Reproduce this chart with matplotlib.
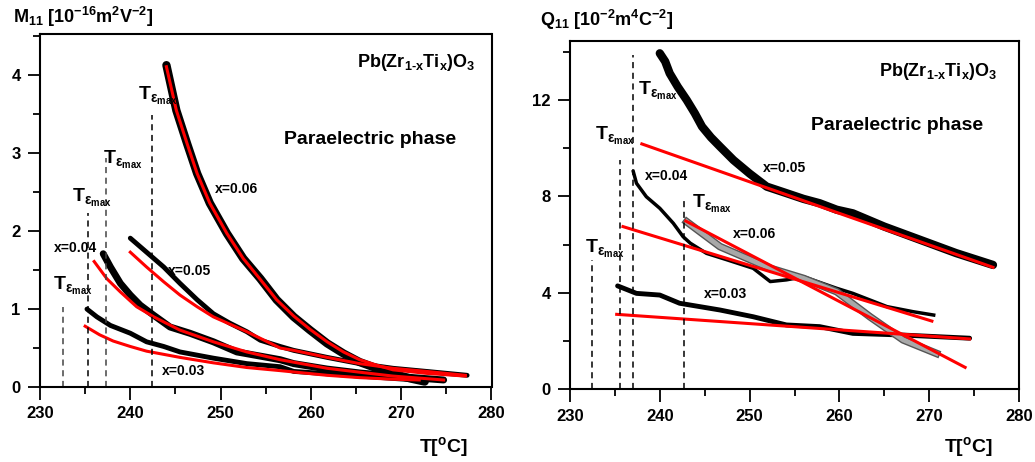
import matplotlib
matplotlib.use('Agg')
import matplotlib.pyplot as plt
from matplotlib.ticker import MultipleLocator

plt.rcParams['font.family'] = ['Liberation Sans', 'DejaVu Sans']
plt.rcParams['font.weight'] = 'bold'
plt.rcParams['mathtext.fontset'] = 'custom'
plt.rcParams['mathtext.rm'] = 'Liberation Sans'
plt.rcParams['mathtext.bf'] = 'Liberation Sans:bold'
plt.rcParams['mathtext.it'] = 'Liberation Sans:bold'
plt.rcParams['mathtext.default'] = 'bf'

# ---- left panel: M11 ----
m06_T = [244.0, 245.1, 246.3, 247.4, 248.8, 250.7, 252.5, 254.4, 256.2, 258.1,
         259.9, 261.8, 263.6, 265.4, 267.3, 269.1, 271.0, 272.6]
m06_v = [4.13, 3.55, 3.12, 2.74, 2.36, 1.97, 1.65, 1.39, 1.12, 0.90,
         0.73, 0.56, 0.43, 0.32, 0.24, 0.17, 0.11, 0.07]
m06f_T = [244.0, 245.1, 246.3, 247.4, 248.8, 250.7, 252.5, 254.4, 256.2, 258.1,
          259.9, 261.8, 263.6, 265.4, 267.3, 269.1, 272.8, 277.1]
m06f_v = [4.11, 3.55, 3.12, 2.74, 2.36, 1.97, 1.65, 1.38, 1.12, 0.91,
          0.74, 0.58, 0.45, 0.35, 0.28, 0.22, 0.175, 0.14]

m05_T = [240.0, 241.8, 243.7, 245.5, 247.4, 249.2, 251.0, 252.9, 254.4, 256.6,
         258.1, 261.8, 265.4, 269.1, 272.8, 277.3]
m05_v = [1.91, 1.73, 1.54, 1.33, 1.12, 0.94, 0.82, 0.71, 0.60, 0.52,
         0.47, 0.38, 0.30, 0.24, 0.20, 0.15]
m05f_T = [240.0, 241.8, 243.7, 245.5, 247.4, 249.2, 252.9, 256.6, 258.1, 261.8,
          265.4, 269.1, 272.8, 277.1]
m05f_v = [1.73, 1.54, 1.35, 1.18, 1.03, 0.90, 0.71, 0.50, 0.47, 0.38,
          0.30, 0.24, 0.20, 0.15]

m04_T = [237.0, 237.8, 238.9, 240.0, 241.1, 242.6, 244.4, 246.6, 249.2, 251.8,
         254.7, 256.6, 258.1, 261.8, 265.4, 269.1, 274.7]
m04_v = [1.71, 1.54, 1.33, 1.18, 1.05, 0.92, 0.77, 0.69, 0.58, 0.45,
         0.39, 0.35, 0.30, 0.23, 0.18, 0.14, 0.09]
m04f_T = [236.0, 237.4, 238.9, 240.7, 242.6, 245.5, 249.2, 252.9, 256.6, 261.8,
          265.4, 269.1, 274.7]
m04f_v = [1.61, 1.39, 1.22, 1.03, 0.90, 0.73, 0.58, 0.45, 0.35, 0.24,
          0.19, 0.14, 0.09]

m03_T = [235.2, 236.3, 237.8, 240.0, 241.8, 243.7, 245.5, 249.2, 252.9, 256.6,
         258.1, 261.8, 265.4, 269.1, 272.8]
m03_v = [1.00, 0.90, 0.79, 0.69, 0.58, 0.52, 0.45, 0.37, 0.30, 0.26,
         0.20, 0.17, 0.14, 0.11, 0.08]
m03f_T = [235.0, 236.6, 238.1, 240.0, 241.8, 245.5, 249.2, 252.9, 256.6, 261.8,
          265.4, 269.1, 272.0]
m03f_v = [0.78, 0.67, 0.59, 0.52, 0.46, 0.38, 0.31, 0.25, 0.21, 0.15,
          0.12, 0.10, 0.09]

m_tmax = [232.5, 235.35, 237.3, 242.4]
m_tmax_top = [1.03, 2.23, 2.94, 3.49]
m_tlab = [(231.4, 1.24), (233.5, 2.37), (237.0, 2.86), (240.85, 3.69)]
m_xlab = [('x=0.06', 251.8, 2.54), ('x=0.05', 246.6, 1.49),
          ('x=0.04', 233.9, 1.78), ('x=0.03', 245.9, 0.21)]

# ---- right panel: Q11 ----
q05_T = [240.0, 240.6, 241.1, 242.0, 243.0, 243.9, 244.7, 245.7, 246.7, 248.2,
         250.0, 251.9, 254.0, 256.0, 257.8, 259.7, 261.5, 265.0, 269.0, 273.0, 277.1]
q05_v = [13.94, 13.6, 13.11, 12.55, 12.0, 11.45, 10.9, 10.45, 10.07, 9.51,
         8.95, 8.41, 8.15, 7.90, 7.72, 7.45, 7.30, 6.75, 6.20, 5.65, 5.16]
q05f_T = [238.0, 277.1]
q05f_v = [10.18, 5.06]

q04_T = [237.05, 237.4, 238.5, 240.0, 241.5, 242.6, 243.4, 245.2, 247.5, 250.4,
         252.3, 254.1, 256.0, 259.7, 261.5, 265.3, 268.2, 270.5]
q04_v = [9.03, 8.55, 7.99, 7.51, 6.89, 6.33, 6.06, 5.64, 5.37, 5.02,
         4.47, 4.54, 4.67, 4.19, 3.98, 3.43, 3.22, 3.08]
q04f_T = [235.9, 270.3]
q04f_v = [6.75, 2.83]

q03_T = [235.3, 237.4, 240.0, 242.2, 246.7, 250.4, 254.1, 257.8, 261.5, 267.1, 274.5]
q03_v = [4.29, 3.98, 3.91, 3.57, 3.29, 3.01, 2.67, 2.60, 2.32, 2.25, 2.12]
q03f_T = [235.2, 274.5]
q03f_v = [3.11, 2.09]

q06_T = [243.0, 246.7, 252.3, 256.0, 259.7, 263.4, 267.1, 270.8]
q06_v = [6.95, 5.92, 5.02, 4.60, 4.05, 3.01, 2.05, 1.49]
q06f_T = [242.9, 274.0]
q06f_v = [6.98, 0.91]

q_tmax = [232.5, 235.6, 237.05, 242.7]
q_tmax_top = [5.37, 9.51, 13.88, 7.99]
q_tlab = [(231.67, 5.66), (232.8, 10.34), (237.57, 12.21), (243.6, 7.52)]
q_xlab = [('x=0.05', 253.9, 9.2), ('x=0.04', 240.8, 8.85),
          ('x=0.06', 250.5, 6.44), ('x=0.03', 247.3, 3.95)]

W, H = 1035, 462
fig = plt.figure(figsize=(W / 100, H / 100), dpi=100)
axL = fig.add_axes([40 / W, 1 - 387 / H, 451.5 / W, 353 / H])
axR = fig.add_axes([570 / W, 1 - 389.3 / H, 449 / W, 348.3 / H])

RED = '#ff0000'
tmax_txt = r'$\mathbf{T}_{\mathbf{\epsilon}_{\mathrm{max}}}$'


def style(ax, ymax, ymaj, ymin):
    ax.set_xlim(230, 280)
    ax.set_ylim(0, ymax)
    ax.xaxis.set_major_locator(MultipleLocator(10))
    ax.xaxis.set_minor_locator(MultipleLocator(5))
    ax.yaxis.set_major_locator(MultipleLocator(ymaj))
    ax.yaxis.set_minor_locator(MultipleLocator(ymin))
    ax.tick_params(which='major', direction='out', length=9, width=1.3,
                   labelsize=12, pad=5)
    ax.tick_params(which='minor', direction='out', length=5, width=1.3)
    for s in ax.spines.values():
        s.set_linewidth(1.5)


# left panel
axL.plot(m03_T, m03_v, color='black', lw=3.5, solid_capstyle='round')
axL.plot(m04_T, m04_v, color='black', lw=5, solid_capstyle='round')
axL.plot(m05_T, m05_v, color='black', lw=3.5, solid_capstyle='round')
axL.plot(m06_T, m06_v, color='black', lw=6, solid_capstyle='round')
for t, v in [(m03f_T, m03f_v), (m04f_T, m04f_v), (m05f_T, m05f_v), (m06f_T, m06f_v)]:
    axL.plot(t, v, color=RED, lw=2.2)
for i, (t, top) in enumerate(zip(m_tmax, m_tmax_top)):
    axL.plot([t, t], [0, top], color='#444444' if i % 2 == 0 else 'black',
             lw=1.1, ls=(0, (4, 3)))
for x, y in m_tlab:
    axL.text(x, y, tmax_txt, fontsize=14, ha='left', va='baseline')
for s, x, y in m_xlab:
    axL.text(x, y, s, fontsize=10, ha='center', va='center')
axL.text(278.2, 4.17, r'Pb(Zr$_{1\mathbf{\text{-}}x}$Ti$_x$)O$_3$', fontsize=13,
         ha='right', va='center')
axL.text(266.5, 3.17, 'Paraelectric phase', fontsize=14, ha='center', va='center')
style(axL, 4.53, 1, 0.5)

# right panel
axR.plot(q03_T, q03_v, color='black', lw=3.5, solid_capstyle='round')
axR.plot(q04_T, q04_v, color='black', lw=2.5)
axR.plot(q05_T, q05_v, color='black', lw=6, solid_capstyle='round')
axR.plot(q06_T, q06_v, color='#555555', lw=5.5)
axR.plot(q06_T, q06_v, color='#a8a8a8', lw=3.5)
for t, v in [(q03f_T, q03f_v), (q04f_T, q04f_v), (q05f_T, q05f_v), (q06f_T, q06f_v)]:
    axR.plot(t, v, color=RED, lw=2.2)
for t, top in zip(q_tmax, q_tmax_top):
    axR.plot([t, t], [0, top], color='black', lw=1.1, ls=(0, (4, 3)))
for x, y in q_tlab:
    axR.text(x, y, tmax_txt, fontsize=14, ha='left', va='baseline')
for s, x, y in q_xlab:
    axR.text(x, y, s, fontsize=10, ha='center', va='center')
axR.text(277.6, 13.17, r'Pb(Zr$_{1\mathbf{\text{-}}x}$Ti$_x$)O$_3$', fontsize=13,
         ha='right', va='center')
axR.text(266.4, 10.93, 'Paraelectric phase', fontsize=14, ha='center', va='center')
style(axR, 14.45, 4, 2)

for ax in (axL, axR):
    for lab in ax.get_xticklabels() + ax.get_yticklabels():
        lab.set_fontweight('bold')

# axis titles
fig.text(13 / W, 1 - 17 / H, r'M$_{11}$ [10$^{-16}$m$^2$V$^{-2}$]', fontsize=13,
         ha='left', va='center')
fig.text(540 / W, 1 - 20 / H, r'Q$_{11}$ [10$^{-2}$m$^4$C$^{-2}$]', fontsize=13,
         ha='left', va='center')
fig.text(468 / W, 1 - 447 / H, r'T[$^{\mathrm{o}}$C]', fontsize=14, ha='right', va='center')
fig.text(993 / W, 1 - 447 / H, r'T[$^{\mathrm{o}}$C]', fontsize=14, ha='right', va='center')

fig.savefig('out.png', dpi=100)
